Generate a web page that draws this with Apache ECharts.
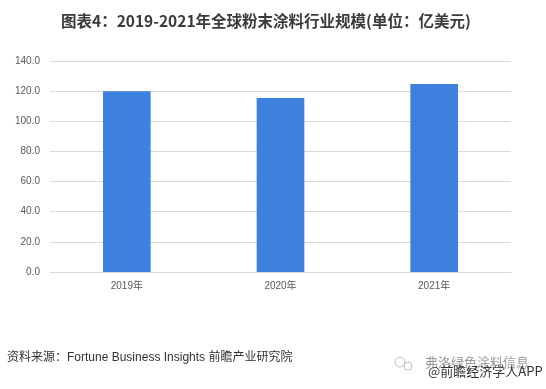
<!DOCTYPE html>
<html>
<head>
<meta charset="utf-8">
<script src="https://cdn.jsdelivr.net/npm/echarts@6/dist/echarts.min.js"></script>
<style>
html,body{margin:0;padding:0;background:#fff;}
#chart{width:546px;height:389px;}
</style>
</head>
<body>
<div id="chart"></div>
<script>
const titleText = '图表4：2019-2021年全球粉末涂料行业规模(单位：亿美元)';
const categories = ['2019年', '2020年', '2021年'];
const marketSize = [120.0, 115.5, 124.8];
const sourceText = '资料来源：Fortune Business Insights 前瞻产业研究院';
const wechatText = '弗洛绿色涂料信息';
const appText = '@前瞻经济学人APP';

const FONT = 'Arial, "Liberation Sans", "Noto Sans CJK SC", sans-serif';
const chart = echarts.init(document.getElementById('chart'), null, {renderer: 'canvas'});
chart.setOption({
  backgroundColor: '#ffffff',
  animation: false,
  title: {
    text: titleText,
    left: 56,
    top: 8,
    textStyle: {fontSize: 15.5, fontWeight: 'bold', color: '#3a3a3a', fontFamily: '"Noto Sans CJK SC", sans-serif'}
  },
  grid: {left: 50, right: 35, top: 61, bottom: 117},
  xAxis: {
    type: 'category',
    data: categories,
    axisLine: {lineStyle: {color: '#d9d9d9', width: 1}},
    axisTick: {show: false},
    axisLabel: {color: '#595959', fontSize: 10, margin: 9, fontFamily: FONT}
  },
  yAxis: {
    type: 'value',
    min: 0, max: 140, interval: 20,
    axisLine: {show: false},
    axisTick: {show: false},
    splitLine: {lineStyle: {color: '#d9d9d9', width: 1}},
    axisLabel: {color: '#595959', fontSize: 10, margin: 10, fontFamily: FONT,
      formatter: v => v.toFixed(1)}
  },
  series: [{
    type: 'bar',
    data: marketSize,
    barWidth: '31%',
    itemStyle: {color: '#3d80de'}
  }],
  graphic: [
    {type: 'text', left: 7, top: 352,
      style: {text: sourceText, fontSize: 12, fill: '#333333', fontFamily: FONT}},
    {type: 'circle', shape: {cx: 400, cy: 362, r: 5},
      style: {fill: 'none', stroke: 'rgba(150,150,150,0.6)', lineWidth: 1}},
    {type: 'circle', shape: {cx: 408, cy: 366, r: 4},
      style: {fill: 'none', stroke: 'rgba(150,150,150,0.6)', lineWidth: 1}},
    {type: 'text', left: 425, top: 356,
      style: {text: wechatText, fontSize: 13, fill: 'rgba(110,110,110,0.7)', fontFamily: '"Noto Sans CJK SC", sans-serif'}},
    {type: 'text', left: 428, top: 365,
      style: {text: appText, fontSize: 13, fill: '#333333', fontFamily: '"Noto Sans CJK SC", sans-serif'}}
  ]
});
</script>
</body>
</html>
